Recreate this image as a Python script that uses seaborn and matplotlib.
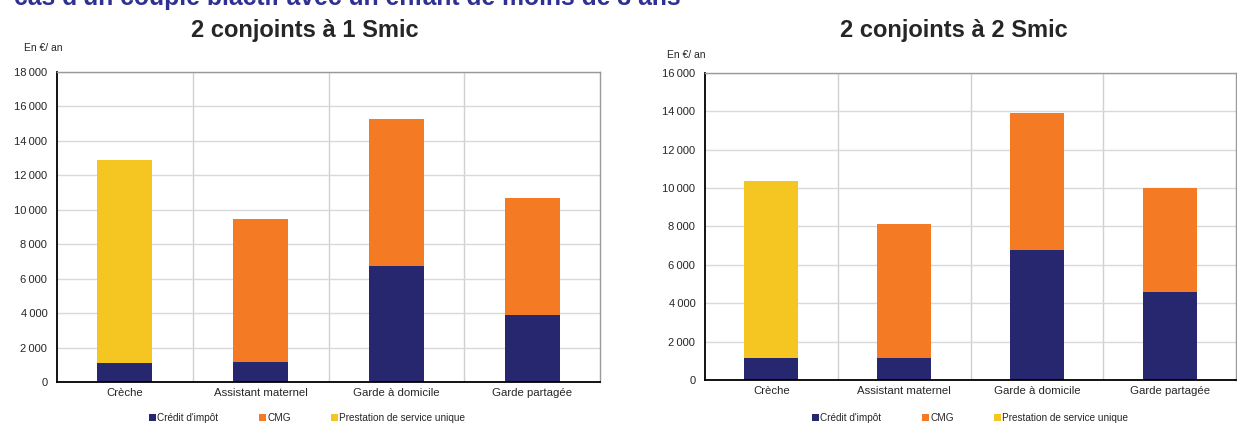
import numpy as np
import pandas as pd
import seaborn as sns
import matplotlib.pyplot as plt
from matplotlib.patches import Patch
from matplotlib.ticker import FuncFormatter

categories = ["Crèche", "Assistant maternel", "Garde à domicile", "Garde partagée"]
series_names = ["Crédit d'impôt", "CMG", "Prestation de service unique"]

# 2 conjoints à 1 Smic
credit_1 = [1100, 1160, 6750, 3910]
cmg_1 = [0, 8290, 8500, 6790]
psu_1 = [11800, 0, 0, 0]

# 2 conjoints à 2 Smic
credit_2 = [1160, 1150, 6770, 4600]
cmg_2 = [0, 6960, 7150, 5420]
psu_2 = [9200, 0, 0, 0]

colors = ["#26276e", "#f47a23", "#f5c622"]

sns.set_style("white")
plt.rcParams["font.family"] = ["Liberation Sans", "DejaVu Sans"]

fig = plt.figure(figsize=(12.37, 4.24), dpi=100)
ax1 = fig.add_axes([57 / 1237, 1 - 382 / 424, 543 / 1237, 310 / 424])
ax2 = fig.add_axes([705 / 1237, 1 - 380 / 424, 531 / 1237, 307.3 / 424])


def stacked(ax, credit, cmg, psu, ymax, step):
    df = pd.DataFrame({"cat": categories, "credit": credit, "cmg": cmg, "psu": psu})
    df["c1"] = df["credit"]
    df["c2"] = df["credit"] + df["cmg"]
    df["c3"] = df["c2"] + df["psu"]
    # draw cumulative layers from the top down so each layer shows its segment
    for col, color in zip(["c3", "c2", "c1"], colors[::-1]):
        sns.barplot(data=df, x="cat", y=col, color=color, width=0.405,
                    saturation=1, ax=ax, edgecolor="none", linewidth=0)
    ax.set_xlim(-0.5, 3.5)
    ax.set_ylim(0, ymax)
    ax.set_yticks(np.arange(0, ymax + 1, step))
    ax.yaxis.set_major_formatter(FuncFormatter(lambda v, p: f"{int(v):,}".replace(",", "\u2009")))
    ax.set_xlabel("")
    ax.set_ylabel("")
    ax.set_axisbelow(True)
    ax.grid(axis="y", color="#d9d9d9", linewidth=1)
    for xb in [0.5, 1.5, 2.5]:
        ax.axvline(xb, color="#d0d0d0", linewidth=1, zorder=0)
    ax.tick_params(axis="y", labelsize=8, length=0, pad=7)
    ax.tick_params(axis="x", labelsize=8.2, length=0, pad=4)
    for s in ["left", "bottom"]:
        ax.spines[s].set_color("black")
        ax.spines[s].set_linewidth(1.3)
    for s in ["top", "right"]:
        ax.spines[s].set_color("#999999")
        ax.spines[s].set_linewidth(1)


stacked(ax1, credit_1, cmg_1, psu_1, 18000, 2000)
stacked(ax2, credit_2, cmg_2, psu_2, 16000, 2000)

fig.text(305 / 1237, 1 - 31 / 424, "2 conjoints à 1 Smic", ha="center", va="center",
         fontsize=17, fontweight="bold")
fig.text(954 / 1237, 1 - 31 / 424, "2 conjoints à 2 Smic", ha="center", va="center",
         fontsize=17, fontweight="bold")
fig.text(24 / 1237, 1 - 48 / 424, "En €/ an", ha="left", va="center", fontsize=7.5)
fig.text(667 / 1237, 1 - 55 / 424, "En €/ an", ha="left", va="center", fontsize=7.5)
fig.text(14 / 1237, 1 - 5 / 424, "cas d'un couple biactif avec un enfant de moins de 3 ans",
         ha="left", va="baseline", fontsize=17.8, fontweight="bold", color="#2e3192")

handles = [Patch(facecolor=c, edgecolor="none") for c in colors]
for cx in [307 / 1237, 970 / 1237]:
    fig.legend(handles, series_names, loc="center", bbox_to_anchor=(cx, 1 - 418 / 424),
               ncol=3, frameon=False, fontsize=7.2, handlelength=0.7, handleheight=0.7,
               handletextpad=0.15, columnspacing=4.0)

fig.savefig("out.png", dpi=100)
